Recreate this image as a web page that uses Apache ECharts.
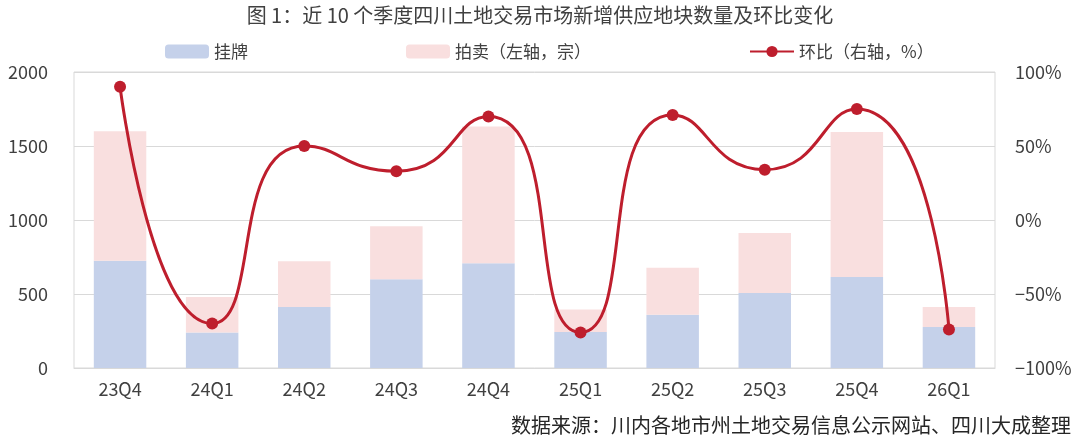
<!DOCTYPE html>
<html><head><meta charset="utf-8">
<script src="https://cdn.jsdelivr.net/npm/echarts@6/dist/echarts.min.js"></script>
<style>html,body{margin:0;padding:0;background:#fff}#c{width:1080px;height:440px}</style>
</head><body><div id="c"></div>
<script>
const categories = ['23Q4','24Q1','24Q2','24Q3','24Q4','25Q1','25Q2','25Q3','25Q4','26Q1'];
const listed = [725, 240, 412, 600, 707, 243, 360, 507, 615, 277];
const auction = [875, 240, 310, 358, 924, 153, 318, 405, 980, 135];
const qoq = [90, -70, 50, 33, 70, -76, 71, 34, 75, -74];
const leftTicks = [0, 500, 1000, 1500, 2000];
const rightTicks = [-100, -50, 0, 50, 100];

const font = '"Noto Sans CJK SC", "Noto Sans", sans-serif';
const chart = echarts.init(document.getElementById('c'));
chart.setOption({
  animation: false,
  textStyle: { fontFamily: font },
  title: [{
    text: '图 1：近 10 个季度四川土地交易市场新增供应地块数量及环比变化',
    left: 'center', top: 0,
    textStyle: { fontSize: 20, fontWeight: 'normal', color: '#404040', fontFamily: font }
  }, {
    text: '数据来源：川内各地市州土地交易信息公示网站、四川大成整理',
    right: 4, bottom: 0,
    textStyle: { fontSize: 20, fontWeight: 'normal', color: '#262626', fontFamily: font }
  }],
  legend: {
    left: 160, top: 38, itemGap: 158, itemWidth: 44, itemHeight: 14,
    textStyle: { fontSize: 17, color: '#404040', fontFamily: font },
    data: [{ name: '挂牌' }, { name: '拍卖（左轴，宗）' }, { name: '环比（右轴，%）' }]
  },
  grid: { left: 74, right: 85, top: 72, bottom: 72, show: true, borderColor: '#d9d9d9', borderWidth: 1 },
  xAxis: {
    type: 'category', data: categories,
    axisLine: { lineStyle: { color: '#d9d9d9' } },
    axisTick: { show: false },
    axisLabel: { fontSize: 18, color: '#404040', margin: 12, fontFamily: font }
  },
  yAxis: [{
    type: 'value', min: leftTicks[0], max: leftTicks[leftTicks.length - 1], interval: 500,
    axisLine: { show: false }, axisTick: { show: false },
    splitLine: { lineStyle: { color: '#d9d9d9' } },
    axisLabel: { fontSize: 18, color: '#404040', margin: 26, fontFamily: font, formatter: v => String(v) }
  }, {
    type: 'value', min: rightTicks[0], max: rightTicks[rightTicks.length - 1], interval: 50,
    axisLine: { show: false }, axisTick: { show: false },
    splitLine: { show: false },
    axisLabel: { fontSize: 18, color: '#404040', margin: 20, fontFamily: font,
      formatter: v => (v < 0 ? '\u2212' + Math.abs(v) : v) + '%' }
  }],
  series: [{
    name: '挂牌', type: 'bar', stack: 's', data: listed, barWidth: '57%',
    itemStyle: { color: '#c5d1ea' }
  }, {
    name: '拍卖（左轴，宗）', type: 'bar', stack: 's', data: auction,
    itemStyle: { color: '#f9dfdf' }
  }, {
    name: '环比（右轴，%）', type: 'line', yAxisIndex: 1, data: qoq, smooth: 0.6,
    symbol: 'circle', symbolSize: 12,
    lineStyle: { color: '#be1e2d', width: 3 },
    itemStyle: { color: '#be1e2d' }
  }]
});
</script></body></html>
